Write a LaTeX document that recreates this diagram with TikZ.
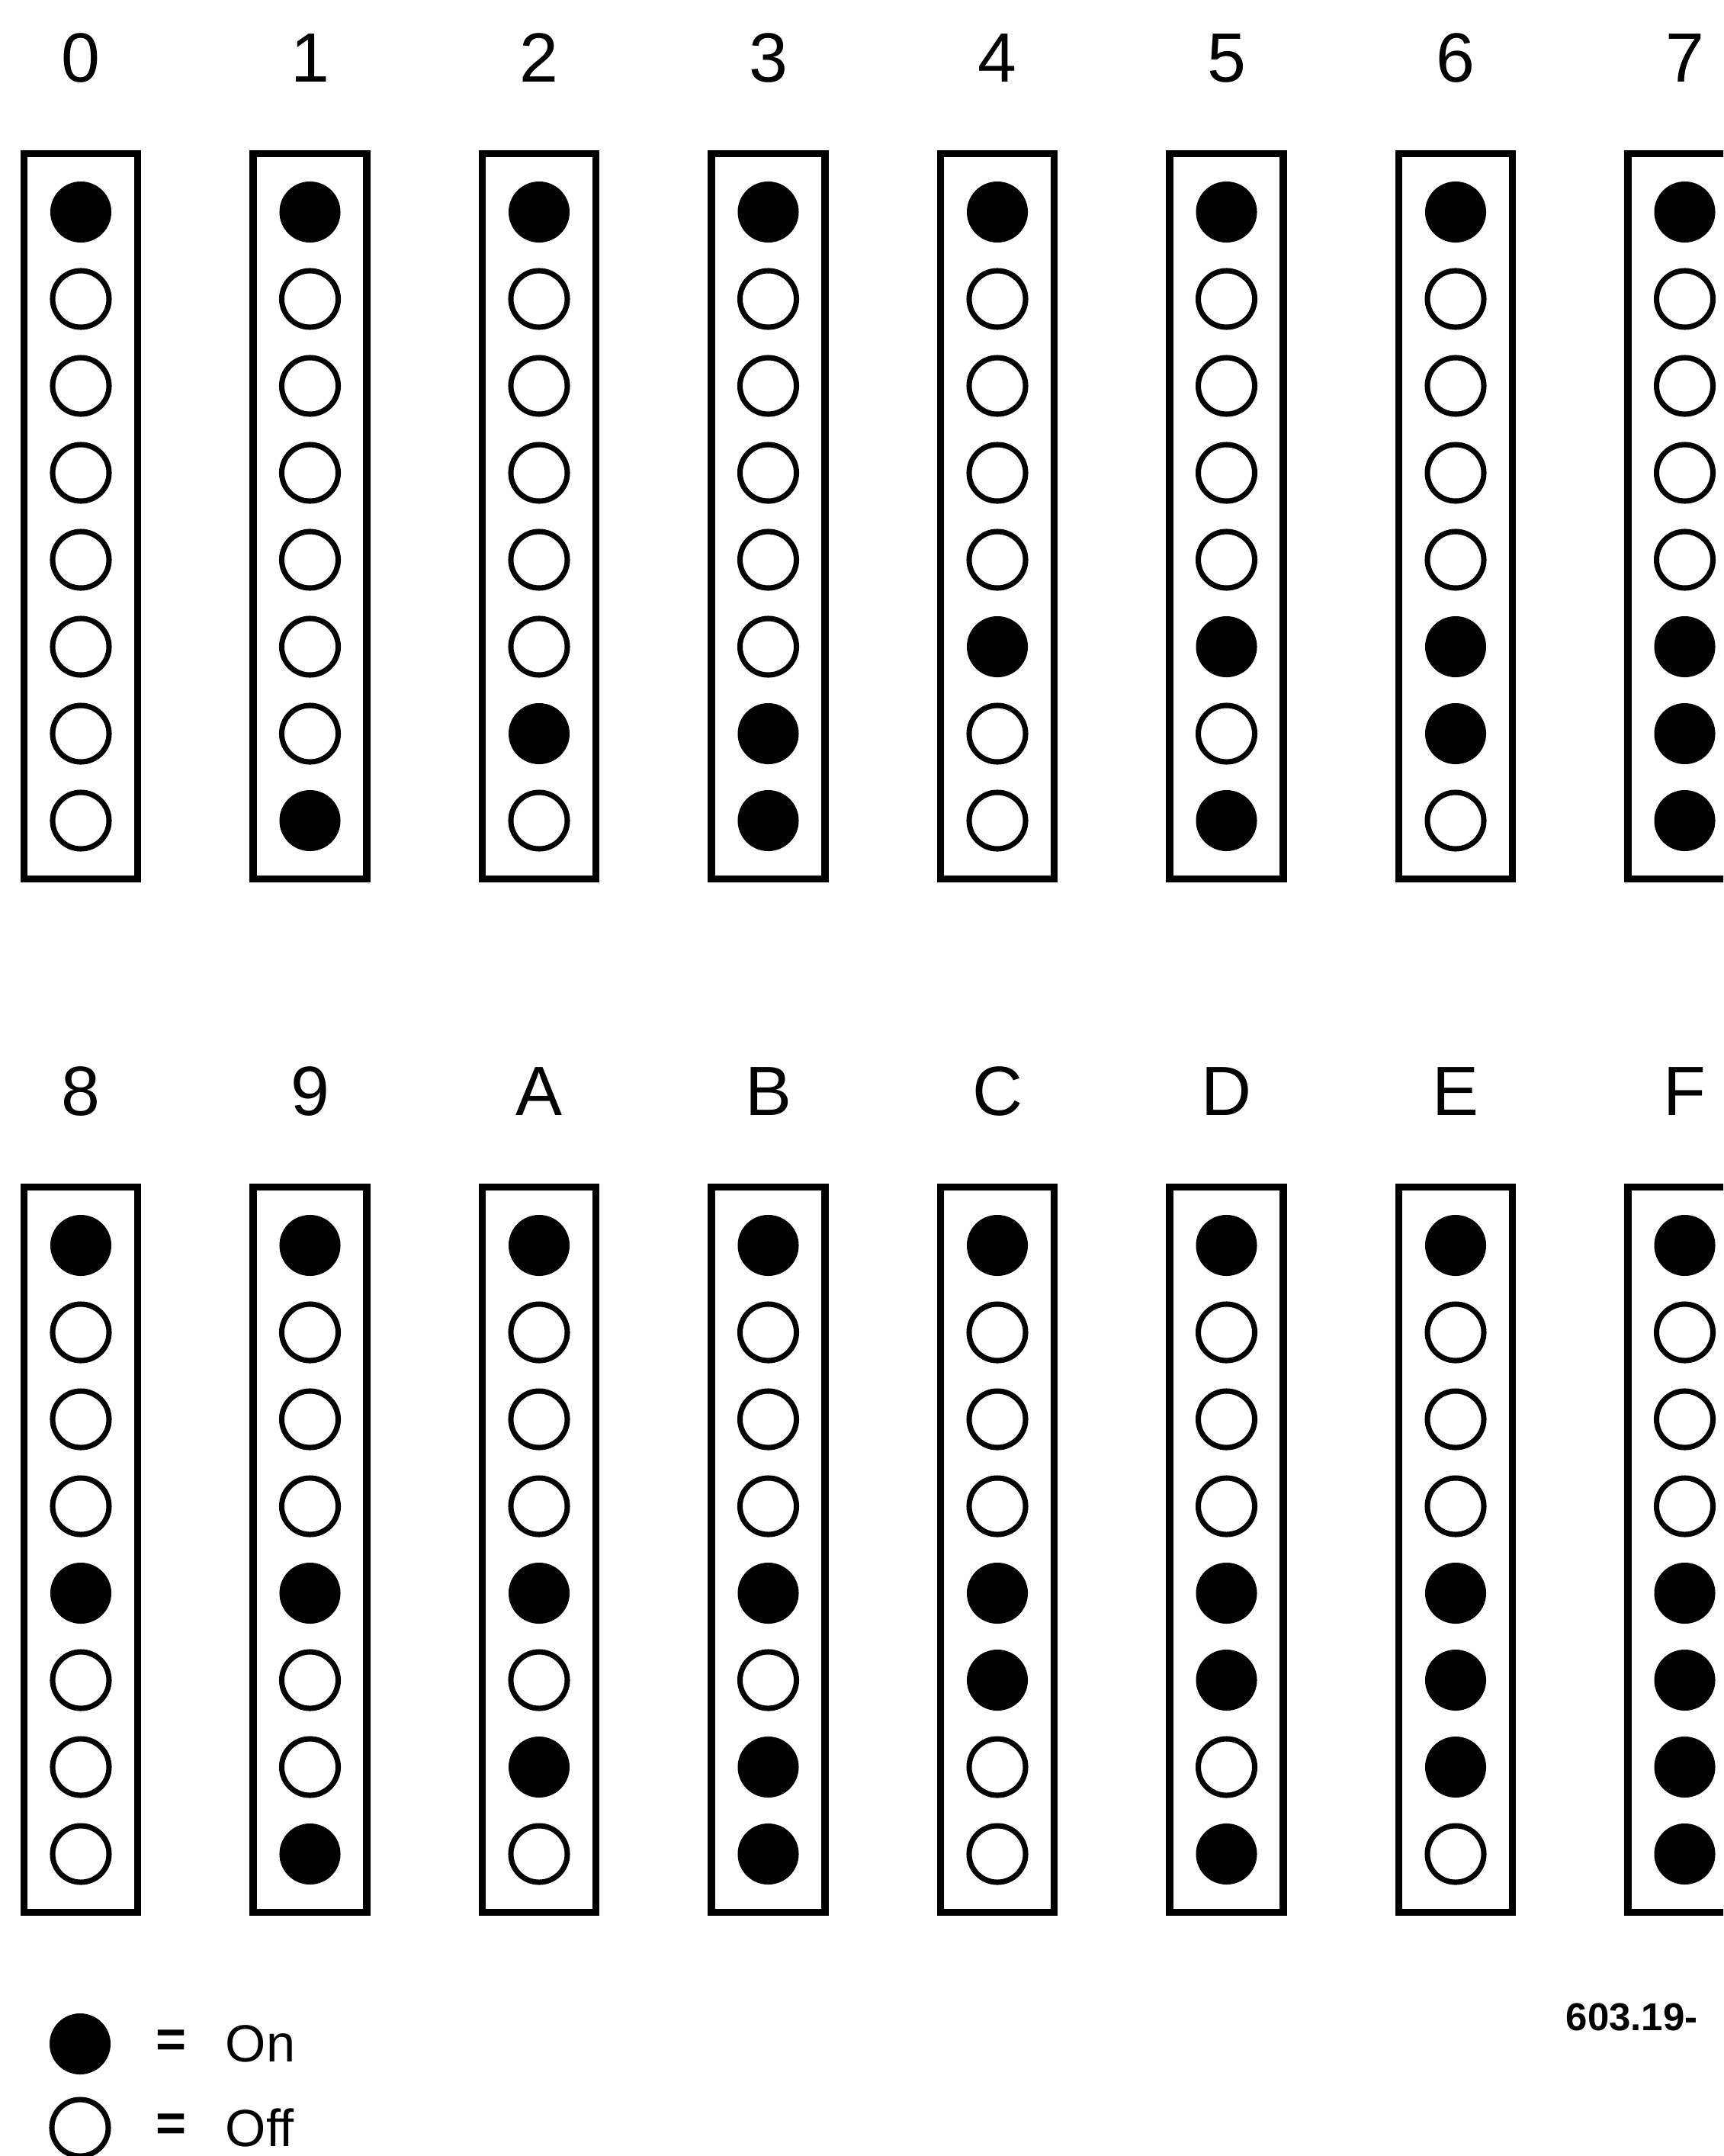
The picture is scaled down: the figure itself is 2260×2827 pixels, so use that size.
\documentclass[tikz,border=0pt]{standalone}
\usepackage{fontspec}
\setmainfont{Liberation Sans}

\tikzset{
  bitbox/.style={draw, line width=2.6pt, minimum width=1.49cm, minimum height=9.5cm, inner sep=0pt},
  led1/.style={circle, fill, minimum size=0.8cm, inner sep=0pt},
  led0/.style={circle, draw, line width=2pt, minimum size=0.74cm, inner sep=0pt},
  digit/.style={font=\fontsize{26}{26}\selectfont, inner sep=0pt},
  keytext/.style={font=\fontsize{19.5}{20}\selectfont, inner sep=0pt}
}

\begin{document}
\begin{tikzpicture}[x=0.01cm, y=-0.01cm]
  \useasboundingbox (0,0) rectangle (2260,2827);
  \clip (0,0) rectangle (2260,2827);

  % one box per hex digit, top bit always on
  \foreach \lbl [count=\i from 0] in {0,1,2,3,4,5,6,7,8,9,A,B,C,D,E,F} {
    \pgfmathtruncatemacro\col{mod(\i,8)}
    \pgfmathtruncatemacro\row{div(\i,8)}
    \node[bitbox] (box\lbl) at ({106+300.5*\col}, {677+1355*\row}) {};
    \node[digit] (lbl\lbl) at ({106+300.5*\col}, {76+1355*\row}) {\lbl};
    \foreach \j in {0,...,7} {
      \pgfmathtruncatemacro\bit{\j==0 ? 1 : (\j>3 ? mod(floor(\i/2^(7-\j)),2) : 0)}
      \node[led\bit] (led\lbl-\j) at ({106+300.5*\col}, {677+1355*\row+(\j-3.5)*114}) {};
    }
  }

  % key
  \node[led1] (keyon) at (105,2680) {};
  \node[keytext, font=\bfseries\fontsize{19.5}{20}\selectfont] (eqon) at (225,2680) {=};
  \node[keytext, anchor=west] (txton) at (295,2680) {On};
  \node[led0] (keyoff) at (105,2790) {};
  \node[keytext, font=\bfseries\fontsize{19.5}{20}\selectfont] (eqoff) at (225,2790) {=};
  \node[keytext, anchor=west] (txtoff) at (295,2790) {Off};

  \node[font=\bfseries\fontsize{14.5}{15}\selectfont, anchor=west, inner sep=0pt] (figno) at (2053,2645) {603.19-};
\end{tikzpicture}
\end{document}
